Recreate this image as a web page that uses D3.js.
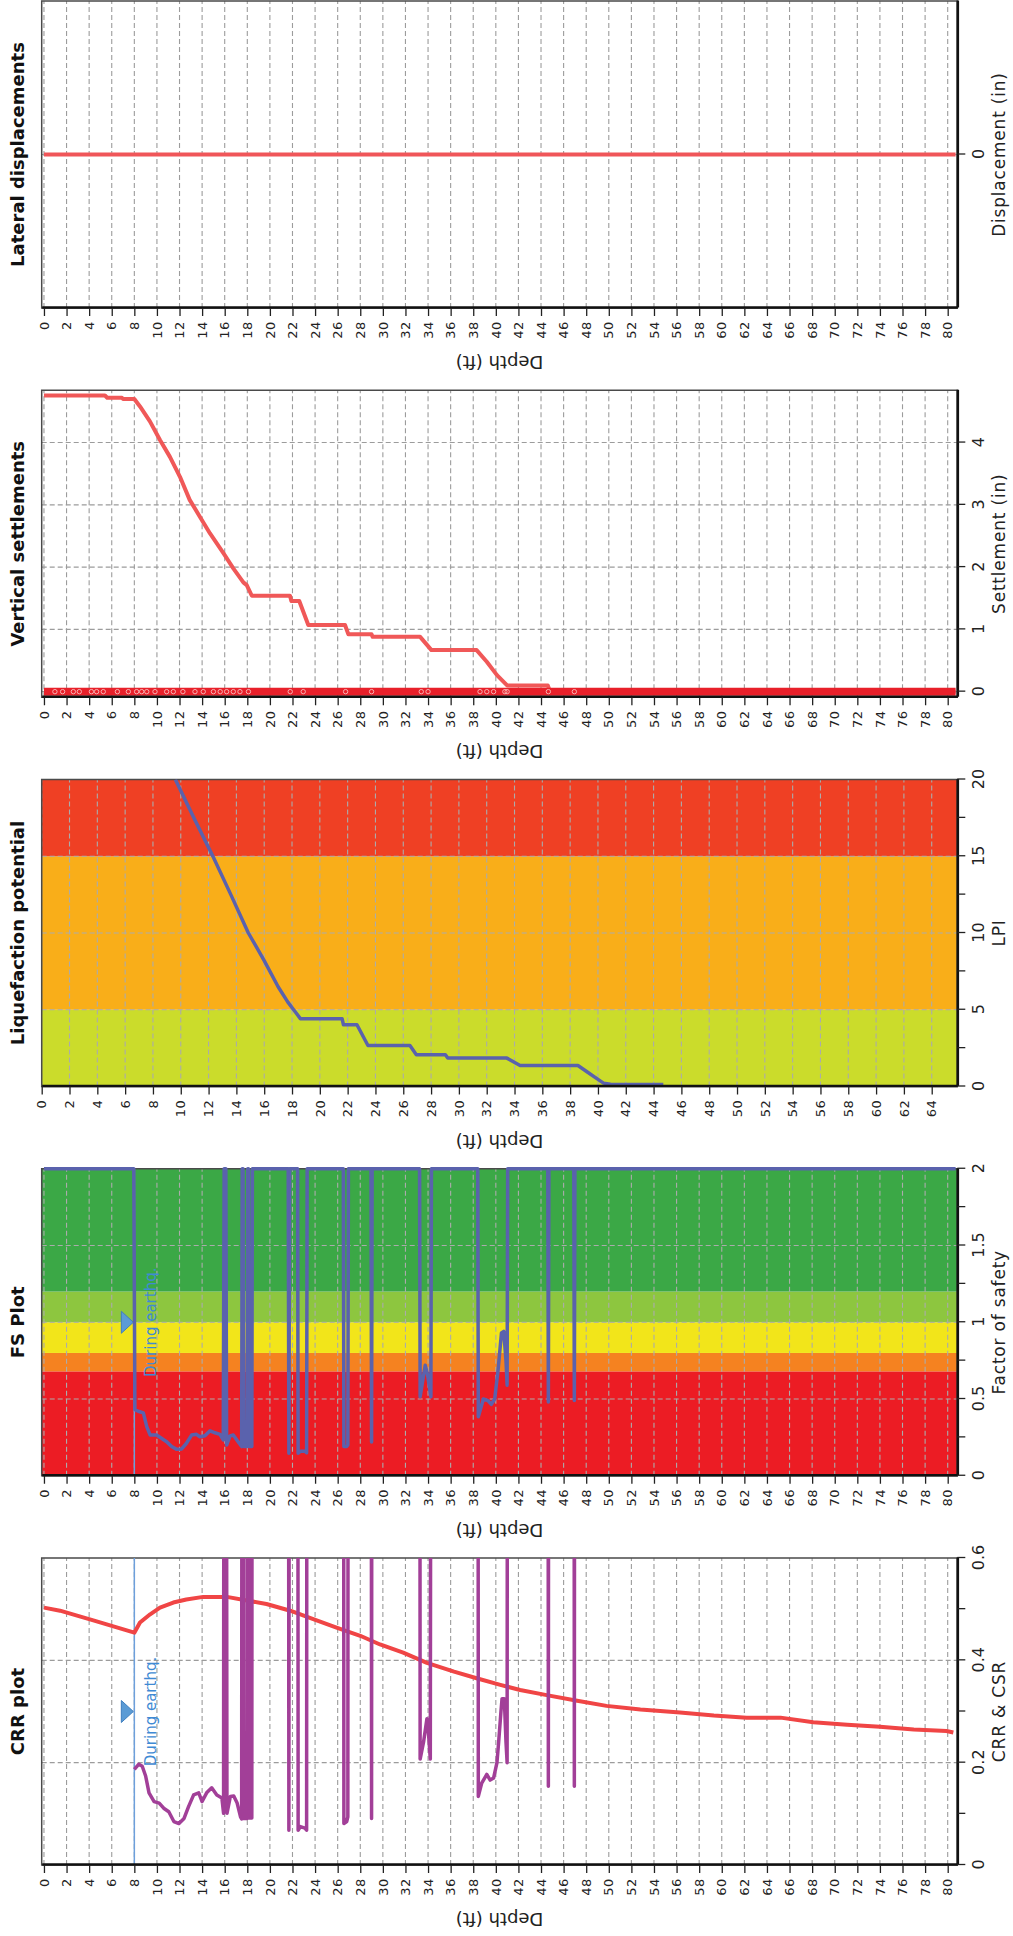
<!DOCTYPE html>
<html>
<head>
<meta charset="utf-8">
<script src="https://cdn.jsdelivr.net/npm/d3@7"></script>
<style>
  body { margin: 0; background: #ffffff; }
  text { font-family: "DejaVu Sans", Verdana, sans-serif; }
</style>
</head>
<body>
<svg id="chart" width="1013" height="1936"></svg>
<script>
// ---------- data ----------
const panelTitles = ["Lateral displacements", "Vertical settlements", "Liquefaction potential", "FS Plot", "CRR plot"];
const valueLabels = ["Displacement (in)", "Settlement (in)", "LPI", "Factor of safety", "CRR & CSR"];

const depthTicks80 = d3.range(0, 81, 2);
const depthTicks64 = d3.range(0, 65, 2);

const dispTicks = [0];
const settleTicks = [0, 1, 2, 3, 4];
const lpiTicks = [0, 2.5, 5, 7.5, 10, 12.5, 15, 17.5, 20];
const lpiLabeled = [0, 5, 10, 15, 20];
const fsTicks = [0, 0.25, 0.5, 0.75, 1, 1.25, 1.5, 1.75, 2];
const fsLabeled = [0, 0.5, 1, 1.5, 2];
const crrTicks = [0, 0.1, 0.2, 0.3, 0.4, 0.5, 0.6];
const crrLabeled = [0, 0.2, 0.4, 0.6];

// LPI risk zones (low / high / very high) and FS zones
const lpiZones = [[0, 5], [5, 15], [15, 20]];
const fsZones = [[0, 0.68], [0.68, 0.8], [0.8, 1.0], [1.0, 1.2], [1.2, 2.0]];

// ground water table during earthquake
const gwtDepth = 8;
const gwtLabel = "During earthq.";

// [depth (ft), value]
const lateralDisp = [[0, 0], [80.7, 0]];

const settlementCurve = [
  [0, 4.755], [5.4, 4.755], [5.6, 4.72], [6.9, 4.72], [7.0, 4.70], [8.0, 4.70],
  [8.5, 4.58], [9.38, 4.34], [10.27, 4.04], [11.15, 3.77], [12.04, 3.45], [12.9, 3.08],
  [13.8, 2.81], [14.7, 2.54], [15.9, 2.22], [16.76, 1.98], [17.65, 1.755], [17.95, 1.71],
  [18.4, 1.54], [21.78, 1.54], [21.9, 1.455], [22.6, 1.455], [23.4, 1.07], [26.65, 1.07],
  [26.95, 0.92], [29.0, 0.92], [29.1, 0.88], [33.3, 0.88], [34.3, 0.667], [38.3, 0.667],
  [39.2, 0.48], [40.1, 0.265], [41.0, 0.10], [44.6, 0.10], [44.8, 0], [80.7, 0]
];
const settlementLayer = [[0, 0], [80.7, 0]];
const settlementMarkers = [
  0.97, 1.65, 2.6, 3.13, 4.2, 4.66, 5.25, 6.5, 7.47, 8.2, 8.65, 9.1, 9.83, 10.86, 11.45,
  12.3, 13.37, 14.1, 15.0, 15.6, 16.17, 16.76, 17.35, 18.1, 21.8, 22.95, 26.7, 29.0,
  33.4, 34.0, 38.6, 39.2, 39.8, 40.8, 41.0, 44.65, 46.95
];

const lpiCurve = [
  [9.61, 20], [11.0, 17.4], [12.31, 15], [13.6, 12.5], [14.86, 10], [16.0, 8.2],
  [17.0, 6.5], [17.7, 5.5], [18.12, 5.0], [18.6, 4.42], [21.6, 4.42], [21.7, 4.02],
  [22.67, 4.02], [23.46, 2.67], [26.48, 2.67], [26.94, 2.07], [29.03, 2.07], [29.2, 1.85],
  [33.45, 1.85], [34.4, 1.37], [38.56, 1.37], [39.26, 0.93], [39.95, 0.5], [40.4, 0.22],
  [40.9, 0.15], [44.7, 0.13]
];

const fsCurve = [
  [0, 2], [7.95, 2], [8.05, 0.43], [8.35, 0.42], [8.8, 0.41], [9.1, 0.32], [9.4, 0.265],
  [9.97, 0.265], [10.4, 0.244], [10.86, 0.222], [11.3, 0.19], [11.75, 0.172], [12.19, 0.175],
  [12.6, 0.21], [13.07, 0.265], [13.5, 0.27], [13.8, 0.254], [14.25, 0.26], [14.7, 0.293],
  [15.14, 0.28], [15.58, 0.27], [15.87, 0.233], [15.95, 2], [16.1, 2], [16.17, 0.2],
  [16.47, 0.26], [16.76, 0.265], [17.2, 0.22], [17.5, 0.19], [17.55, 2], [17.62, 2],
  [17.68, 0.19], [17.98, 0.19], [18.04, 2], [18.1, 2], [18.16, 0.19], [18.4, 0.19],
  [18.45, 2], [21.62, 2], [21.68, 0.146], [21.75, 2], [22.45, 2], [22.5, 0.146],
  [22.7, 0.16], [23.1, 0.16], [23.25, 0.15], [23.3, 2], [26.5, 2], [26.55, 0.19],
  [26.8, 0.19], [26.9, 0.2], [26.95, 2], [28.95, 2], [29.0, 0.22], [29.05, 2],
  [33.25, 2], [33.3, 0.515], [33.75, 0.72], [33.95, 0.66], [34.25, 0.515], [34.3, 2],
  [38.4, 2], [38.45, 0.385], [38.9, 0.5], [39.3, 0.49], [39.6, 0.465], [39.9, 0.5],
  [40.2, 0.69], [40.5, 0.93], [40.7, 0.94], [40.9, 0.75], [41.0, 0.59], [41.05, 2],
  [44.6, 2], [44.65, 0.48], [44.7, 2], [46.9, 2], [46.95, 0.49], [47.0, 2], [80.7, 2]
];

const crrCurve = [
  [8.0, 0.187], [8.4, 0.197], [8.7, 0.193], [9.0, 0.174], [9.3, 0.141], [9.75, 0.124],
  [10.2, 0.121], [10.6, 0.111], [11.05, 0.104], [11.5, 0.085], [11.95, 0.081], [12.4, 0.091],
  [12.8, 0.114], [13.25, 0.137], [13.7, 0.141], [14.0, 0.124], [14.4, 0.141], [14.85, 0.151],
  [15.3, 0.137], [15.75, 0.131], [15.9, 0.101], [15.95, 2], [16.1, 2], [16.2, 0.101],
  [16.5, 0.134], [16.8, 0.135], [17.1, 0.121], [17.4, 0.094], [17.5, 0.09], [17.55, 2],
  [17.62, 2], [17.68, 0.091], [17.98, 0.091], [18.04, 2], [18.1, 2], [18.16, 0.092],
  [18.4, 0.092], [18.45, 2], [21.62, 2], [21.68, 0.068], [21.75, 2], [22.45, 2],
  [22.5, 0.068], [22.7, 0.075], [23.1, 0.072], [23.25, 0.068], [23.3, 2], [26.5, 2],
  [26.55, 0.081], [26.8, 0.085], [26.9, 0.094], [26.95, 2], [28.95, 2], [29.0, 0.091],
  [29.05, 2], [33.25, 2], [33.3, 0.207], [33.6, 0.24], [33.9, 0.286], [34.0, 0.27],
  [34.2, 0.207], [34.3, 2], [38.4, 2], [38.45, 0.134], [38.75, 0.16], [39.2, 0.177],
  [39.5, 0.166], [39.8, 0.17], [40.1, 0.2], [40.25, 0.24], [40.45, 0.299], [40.55, 0.325],
  [40.75, 0.325], [40.9, 0.24], [41.0, 0.2], [41.05, 2], [44.6, 2], [44.65, 0.154],
  [44.7, 2], [46.9, 2], [46.95, 0.154], [47.0, 2]
];

const csrCurve = [
  [0, 0.503], [1.42, 0.497], [4.37, 0.478], [8.0, 0.454], [8.5, 0.474], [9.4, 0.490],
  [10.27, 0.503], [11.45, 0.513], [12.6, 0.519], [14.1, 0.524], [16.2, 0.524], [17.95, 0.517],
  [19.7, 0.510], [21.8, 0.497], [23.9, 0.480], [25.9, 0.464], [28.0, 0.448], [29.75, 0.431],
  [31.8, 0.415], [33.9, 0.395], [36.3, 0.378], [38.3, 0.365], [40.4, 0.352], [42.15, 0.342],
  [44.5, 0.332], [47.2, 0.321], [49.8, 0.311], [52.8, 0.304], [56.3, 0.298], [59.3, 0.292],
  [62.2, 0.288], [65.2, 0.288], [68.1, 0.279], [71.1, 0.274], [74.0, 0.270], [77.0, 0.265],
  [79.9, 0.262], [80.5, 0.259]
];

// ---------- layout ----------
const svg = d3.select("#chart");
const LEFT = 41.7;        // plot box left edge on the page
const W = 915.6;          // box extent along depth (page horizontal)
const H = 307;            // box extent along value (page vertical)
const FIRST_TOP = 1;
const STEP = 389.25;
const fmt = d3.format("~g");

// Each panel is drawn in its natural orientation (depth downward, value rightward)
// and turned a quarter turn counter-clockwise onto the page.
function drawPanel(idx, o) {
  const top = FIRST_TOP + idx * STEP;
  const g = svg.append("g").attr("transform", `translate(${LEFT},${top + H}) rotate(-90)`);
  const depth = d3.scaleLinear().domain(o.depthDomain).range([0, W]);
  const val = d3.scaleLinear().domain(o.valueDomain).range([0, H]);
  const clipId = "clip" + idx;
  g.append("clipPath").attr("id", clipId)
    .append("rect").attr("x", 0).attr("y", 0).attr("width", H).attr("height", W);

  // colour zones
  if (o.zones) {
    g.append("g").selectAll("rect").data(o.zones).join("rect")
      .attr("x", d => val(d[0])).attr("width", d => val(d[1]) - val(d[0]))
      .attr("y", 0).attr("height", W)
      .attr("fill", (d, i) => o.zoneColors[i]);
  }

  // dashed grid
  const grid = g.append("g").attr("stroke", o.gridColor || "#9c9c9c")
    .attr("stroke-width", 1.1).attr("stroke-dasharray", "5,3");
  grid.selectAll("line.d").data(o.depthTicks).join("line").attr("class", "d")
    .attr("x1", 0).attr("x2", H).attr("y1", d => depth(d)).attr("y2", d => depth(d));
  grid.selectAll("line.v").data(o.labeled.filter(v => val(v) > 1 && val(v) < H - 1)).join("line").attr("class", "v")
    .attr("x1", d => val(d)).attr("x2", d => val(d)).attr("y1", 0).attr("y2", W);

  // frame
  g.append("rect").attr("x", 0).attr("y", 0).attr("width", H).attr("height", W)
    .attr("fill", "none").attr("stroke", "#4a4a4a").attr("stroke-width", 1.5);

  const plot = g.append("g");
  const plotClipped = g.append("g").attr("clip-path", `url(#${clipId})`);
  const line = d3.line().x(d => val(d[1])).y(d => depth(d[0]));

  // depth axis (page bottom)
  const dAxis = g.append("g")
    .call(d3.axisLeft(depth).tickValues(o.depthTicks).tickSize(8).tickSizeOuter(0)
      .tickPadding(5).tickFormat(d3.format("d")));
  dAxis.attr("font-size", 13).attr("font-family", null).attr("color", "#222");
  dAxis.select(".domain").attr("stroke", "#111").attr("stroke-width", 2.6);
  dAxis.selectAll(".tick line").attr("stroke-width", 1.3);
  dAxis.selectAll(".tick text").attr("letter-spacing", 0.6);

  // value axis (page right)
  const vAxis = g.append("g").attr("transform", `translate(0,${W})`)
    .call(d3.axisBottom(val).tickValues(o.valueTicks).tickSize(8).tickSizeOuter(0)
      .tickPadding(7).tickFormat(v => o.labeled.includes(v) ? fmt(v) : ""));
  vAxis.attr("font-size", 16).attr("font-family", null).attr("color", "#222");
  vAxis.select(".domain").attr("stroke", "#111").attr("stroke-width", 2.6);
  vAxis.selectAll(".tick line").attr("stroke-width", 1.3);

  // titles and axis labels
  g.append("text").attr("x", H / 2).attr("y", -17.7).attr("text-anchor", "middle")
    .attr("font-size", 18).attr("font-weight", "bold").attr("fill", "#111")
    .text(panelTitles[idx]);
  g.append("text").attr("x", H / 2).attr("y", W + 47.7).attr("text-anchor", "middle")
    .attr("font-size", 17).attr("letter-spacing", 0.8).attr("fill", "#222").text(valueLabels[idx]);
  g.append("text").attr("transform", `translate(-48,${W / 2}) rotate(-90)`)
    .attr("text-anchor", "middle").attr("font-size", 18)
    .attr("fill", "#222").text("Depth (ft)");

  return { g, plot, plotClipped, depth, val, line };
}

// ground water table marker and label
function drawWaterTable(p, mid) {
  const y = p.depth(gwtDepth);
  p.plot.append("line").attr("x1", 0).attr("x2", H).attr("y1", y).attr("y2", y)
    .attr("stroke", "#6d9fdb").attr("stroke-width", 1.5);
  const cx = p.val(mid);
  p.plot.append("path")
    .attr("d", `M${cx - 11},${y - 13}L${cx + 11},${y - 13}L${cx},${y - 1}Z`)
    .attr("fill", "#5b9bd5").attr("stroke", "#3f7fc0").attr("stroke-width", 1);
  p.plot.append("text").attr("x", cx).attr("y", y + 22).attr("text-anchor", "middle")
    .attr("font-size", 15).attr("fill", "#3f8ad4").text(gwtLabel);
}

const depth80 = [-0.2, 80.85];

// 1. Lateral displacements
{
  const p = drawPanel(0, { depthDomain: depth80, valueDomain: [-1, 1], valueTicks: dispTicks,
    labeled: dispTicks, depthTicks: depthTicks80 });
  p.plot.append("path").datum(lateralDisp).attr("d", p.line)
    .attr("fill", "none").attr("stroke", "#f05659").attr("stroke-width", 4);
}

// 2. Vertical settlements
{
  const p = drawPanel(1, { depthDomain: depth80, valueDomain: [-0.09, 4.84], valueTicks: settleTicks,
    labeled: settleTicks, depthTicks: depthTicks80 });
  p.plot.append("path").datum(settlementCurve).attr("d", p.line)
    .attr("fill", "none").attr("stroke", "#f05858").attr("stroke-width", 4).attr("stroke-linejoin", "round");
  p.plot.append("path").datum(settlementLayer).attr("d", p.line)
    .attr("fill", "none").attr("stroke", "#e8202a").attr("stroke-width", 8);
  p.plot.append("g").selectAll("circle").data(settlementMarkers).join("circle")
    .attr("cx", p.val(0)).attr("cy", d => p.depth(d)).attr("r", 2.2)
    .attr("fill", "none").attr("stroke", "#f7b0b0").attr("stroke-width", 1);
}

// 3. Liquefaction potential
{
  const p = drawPanel(2, { depthDomain: [0, 65.84], valueDomain: [0, 20], valueTicks: lpiTicks,
    labeled: lpiLabeled, depthTicks: depthTicks64,
    zones: lpiZones, zoneColors: ["#cbdc2b", "#f9ae19", "#ef4024"], gridColor: "#ababab" });
  p.plotClipped.append("path").datum(lpiCurve).attr("d", p.line)
    .attr("fill", "none").attr("stroke", "#5a62ad").attr("stroke-width", 3.5).attr("stroke-linejoin", "round");
}

// 4. Factor of safety
{
  const p = drawPanel(3, { depthDomain: depth80, valueDomain: [0, 2], valueTicks: fsTicks,
    labeled: fsLabeled, depthTicks: depthTicks80,
    zones: fsZones, zoneColors: ["#ec1c24", "#f58220", "#f2e51a", "#8dc63f", "#3ba846"], gridColor: "#ababab" });
  drawWaterTable(p, 1.0);
  p.plot.append("path").datum(fsCurve).attr("d", p.line)
    .attr("fill", "none").attr("stroke", "#5a62ad").attr("stroke-width", 3.5).attr("stroke-linejoin", "round");
}

// 5. CRR & CSR
{
  const p = drawPanel(4, { depthDomain: depth80, valueDomain: [0, 0.6], valueTicks: crrTicks,
    labeled: crrLabeled, depthTicks: depthTicks80 });
  drawWaterTable(p, 0.3);
  p.plotClipped.append("path").datum(csrCurve).attr("d", p.line)
    .attr("fill", "none").attr("stroke", "#f04545").attr("stroke-width", 4).attr("stroke-linejoin", "round");
  p.plotClipped.append("path").datum(crrCurve).attr("d", p.line)
    .attr("fill", "none").attr("stroke", "#a23f98").attr("stroke-width", 3.5).attr("stroke-linejoin", "round");
}
</script>
</body>
</html>
